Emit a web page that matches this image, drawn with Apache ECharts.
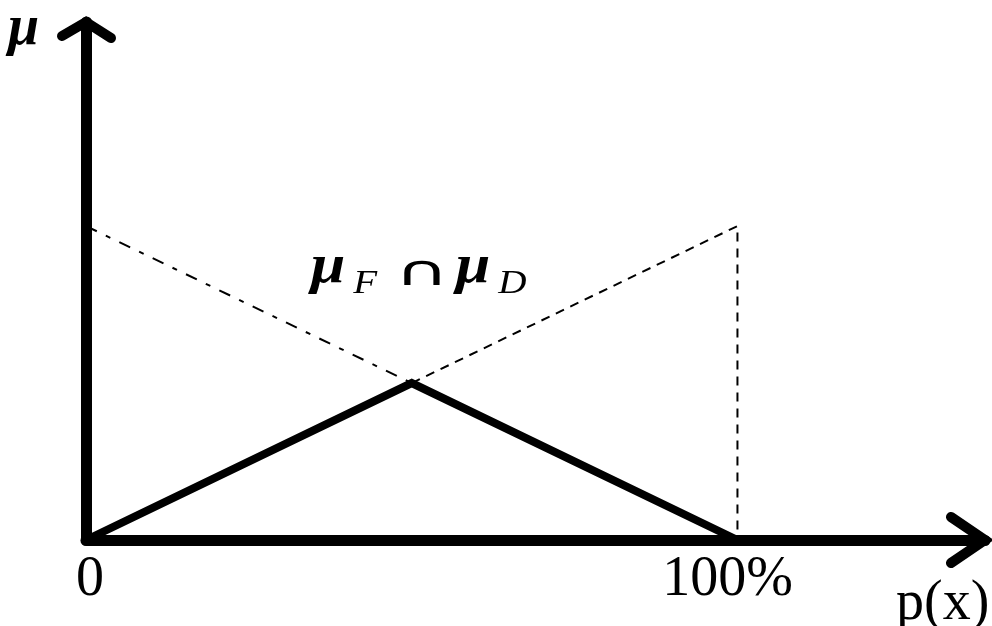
<!DOCTYPE html>
<html><head><meta charset="utf-8">
<script src="https://cdn.jsdelivr.net/npm/echarts@6/dist/echarts.min.js"></script>
<style>html,body{margin:0;padding:0;background:#fff}#c{width:992px;height:626px}</style>
</head><body><div id="c"></div>
<script>
// data
const xTicks = [0, 100];
const xTickLabels = ['0', '100%'];
const intersection = [[0, 0], [50, 0.5], [100, 0]];      // μF ∩ μD (thick)
const muF = [[0, 1], [50, 0.5]];                          // dash-dot part
const muD = [[50, 0.5], [100, 1], [100, 0]];               // dashed part
const xMax = 138, yMax = 1.65;

const chart = echarts.init(document.getElementById('c'));
const serif = '"Liberation Serif","DejaVu Serif",serif';
chart.setOption({
  animation: false,
  backgroundColor: '#fff',
  grid: { left: 86, right: 7, top: 22, bottom: 86 },
  xAxis: {
    type: 'value', min: 0, max: xMax,
    axisLine: { lineStyle: { color: '#000', width: 11 } },
    axisTick: { show: false }, splitLine: { show: false },
    axisLabel: {
      customValues: xTicks,
      formatter: v => (v === 0 ? '{z|' : '{h|') + xTickLabels[xTicks.indexOf(v)] + '}',
      color: '#000', fontFamily: serif, fontSize: 56, margin: 12,
      rich: {
        z: { font: '56px ' + serif, fill: '#000', padding: [0, 0, 0, 8] },
        h: { font: '58px ' + serif, fill: '#000', padding: [0, 20, 0, 0] }
      }
    }
  },
  yAxis: {
    type: 'value', min: 0, max: yMax,
    axisLine: { lineStyle: { color: '#000', width: 11 } },
    axisTick: { show: false }, splitLine: { show: false }, axisLabel: { show: false }
  },
  series: [
    { type: 'line', data: muF, symbol: 'none', lineStyle: { color: '#000', width: 2, type: [12, 10, 5, 10] }, z: 2 },
    { type: 'line', data: muD, symbol: 'none', lineStyle: { color: '#000', width: 2, type: [9, 7] }, z: 2 },
    { type: 'line', data: intersection, symbol: 'none', lineStyle: { color: '#000', width: 8, join: 'miter' }, z: 3 }
  ]
});

const xEnd = chart.convertToPixel({ gridIndex: 0 }, [xMax, 0]);
const yEnd = chart.convertToPixel({ gridIndex: 0 }, [0, yMax]);
const mid = chart.convertToPixel({ gridIndex: 0 }, [50, 0.5]);
const rich = {
  m: { font: 'italic bold 54px ' + serif, fill: '#000', verticalAlign: 'bottom' },
  s: { font: 'italic 34px ' + serif, fill: '#000', verticalAlign: 'bottom', padding: [0, 0, -6, 7] }
};
chart.setOption({
  graphic: [
    { type: 'polyline', shape: { points: [[xEnd[0] - 34, xEnd[1] - 23], [xEnd[0], xEnd[1]], [xEnd[0] - 34, xEnd[1] + 23]] },
      style: { stroke: '#000', lineWidth: 10, fill: null, lineCap: 'round', lineJoin: 'miter' }, z: 10 },
    { type: 'polyline', shape: { points: [[yEnd[0] - 24, yEnd[1] + 14], [yEnd[0], yEnd[1]], [yEnd[0] + 25, yEnd[1] + 16]] },
      style: { stroke: '#000', lineWidth: 10, fill: null, lineCap: 'round', lineJoin: 'miter' }, z: 10 },
    { type: 'text', left: 8, top: 2,
      style: { text: 'μ', font: 'italic bold 56px ' + serif, fill: '#000' } },
    { type: 'text', left: 896, top: 576,
      style: { text: 'p(x)', font: '56px ' + serif, fill: '#000' } },
    { type: 'text', x: mid[0] - 101, y: mid[1] - 142, scaleX: 1.15,
      style: { text: '{m|μ}{s|F}', rich } },
    { type: 'text', x: mid[0] - 17, y: mid[1] - 130, scaleX: 1.85, scaleY: 1.05,
      style: { text: '∩', font: '40px "DejaVu Sans",sans-serif', fill: '#000' } },
    { type: 'text', x: mid[0] + 44, y: mid[1] - 142, scaleX: 1.15,
      style: { text: '{m|μ}{s|D}', rich } }
  ]
});
</script></body></html>
